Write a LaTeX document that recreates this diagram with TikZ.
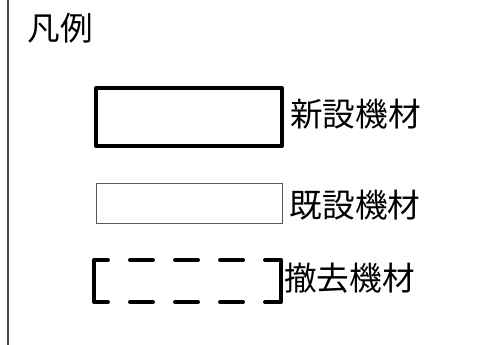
\documentclass[tikz,border=0pt]{standalone}
\usepackage{fontspec}
\setmainfont{Noto Sans CJK JP}
\usetikzlibrary{positioning}
\newlength{\pxl}
\setlength{\pxl}{0.75pt}

\begin{document}
\begin{tikzpicture}[
  x=\pxl, y=-\pxl,
  lbl/.style={font=\fontsize{24.5}{28}\selectfont, inner sep=0pt, anchor=west},
  newbox/.style={rectangle, draw=black, line width=4\pxl, line join=round,
    minimum width=186\pxl, minimum height=58\pxl, inner sep=0pt, outer sep=0pt},
  oldbox/.style={rectangle, draw=black!65, line width=1\pxl,
    minimum width=186\pxl, minimum height=40\pxl, inner sep=0pt, outer sep=0pt},
  rmvbox/.style={rectangle, minimum width=187\pxl, minimum height=42\pxl,
    inner sep=0pt, outer sep=0pt},
  brk/.style={line width=4\pxl, line join=round, line cap=round},
  dsh/.style={brk, dash pattern=on 23\pxl off 22\pxl, dash phase=23\pxl},
]
  \useasboundingbox (0,0) rectangle (483,345);
  \draw[black!70, line width=1.5\pxl] (8,0) -- (8,345);

  \node[lbl, anchor=center] (title) at (60,28) {凡例};

  \node[newbox] (new) at (189,117) {};
  \node[lbl, right=8\pxl of new, yshift=3\pxl] (newlbl) {新設機材};

  \node[oldbox] (old) at (189.5,203.5) {};
  \node[lbl, right=7\pxl of old, yshift=-1.5\pxl] (oldlbl) {既設機材};

  \node[rmvbox] (rmv) at (187.5,281) {};
  \draw[brk] ([xshift=14\pxl]rmv.north west) -| (rmv.south west) -- ++(14,0);
  \draw[brk] ([xshift=-14\pxl]rmv.north east) -| (rmv.south east) -- ++(-14,0);
  \draw[dsh] ([xshift=14\pxl]rmv.north west) -- ([xshift=-14\pxl]rmv.north east);
  \draw[dsh] ([xshift=14\pxl]rmv.south west) -- ([xshift=-14\pxl]rmv.south east);
  \node[lbl, right=3\pxl of rmv, yshift=3\pxl] (rmvlbl) {撤去機材};
\end{tikzpicture}
\end{document}
